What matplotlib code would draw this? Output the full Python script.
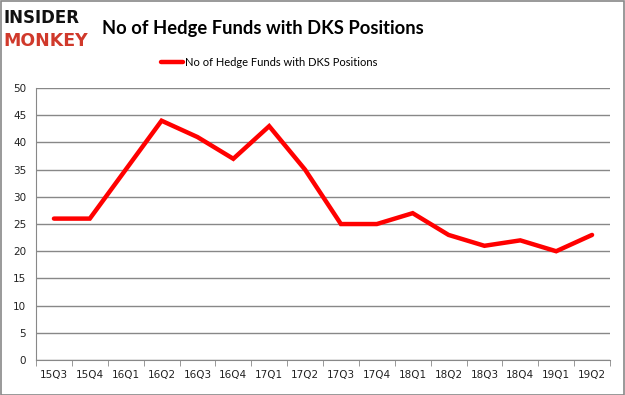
import matplotlib.pyplot as plt
import numpy as np

# quarters and hedge fund counts
quarters = ['15Q3', '15Q4', '16Q1', '16Q2', '16Q3', '16Q4', '17Q1', '17Q2',
            '17Q3', '17Q4', '18Q1', '18Q2', '18Q3', '18Q4', '19Q1', '19Q2']
funds = [26, 26, 35, 44, 41, 37, 43, 35, 25, 25, 27, 23, 21, 22, 20, 23]
series_name = 'No of Hedge Funds with DKS Positions'

plt.rcParams['font.family'] = ['DejaVu Sans']

fig = plt.figure(figsize=(6.25, 3.95), dpi=100)
ax = fig.add_axes([0.0576, 0.0886, 0.9184, 0.6884])

x = np.arange(len(quarters))
ax.plot(x, funds, color='#ff0000', linewidth=3.2, solid_capstyle='round',
        solid_joinstyle='miter', label=series_name)

ax.set_xlim(-0.5, len(quarters) - 0.5)
ax.set_ylim(0, 50)
ax.set_yticks(range(0, 51, 5))
ax.set_xticks(x)
ax.set_xticklabels(quarters)
ax.set_xticks(np.arange(-0.5, len(quarters), 1), minor=True)
ax.tick_params(axis='x', which='major', length=0, labelsize=7.5, colors='#222222', pad=7)
ax.tick_params(axis='x', which='minor', length=4, color='#888888')
ax.tick_params(axis='y', length=0, labelsize=7.5, colors='#222222', pad=7)

ax.grid(axis='y', color='#888888', linewidth=1)
ax.set_axisbelow(True)
for s in ['top', 'right']:
    ax.spines[s].set_visible(False)
ax.spines['left'].set_color('#888888')
ax.spines['bottom'].set_color('#888888')

# title and legend
fig.text(0.163, 0.928, 'No of Hedge Funds with DKS Positions', fontsize=13.2,
         fontweight='bold', family='Lato', ha='left', va='center')
leg = ax.legend(loc='center left', bbox_to_anchor=(0.258, 0.843),
                bbox_transform=fig.transFigure, frameon=False,
                prop={'family': 'Lato', 'size': 8}, handlelength=2.0,
                handletextpad=0.15, borderpad=0, borderaxespad=0)

# logo
fig.text(0.006, 0.955, 'INSIDER', fontsize=12, fontweight='bold', color='#111111',
         family='DejaVu Sans', ha='left', va='center')
fig.text(0.006, 0.897, 'MONKEY', fontsize=12.5, fontweight='bold', color='#d0392b',
         family='DejaVu Sans', ha='left', va='center')

# outer border
fig.patches.append(plt.Rectangle((0.001, 0.001), 0.997, 0.997, transform=fig.transFigure,
                                 fill=False, edgecolor='#888888', linewidth=1.2))

fig.savefig('out.png', dpi=100)
